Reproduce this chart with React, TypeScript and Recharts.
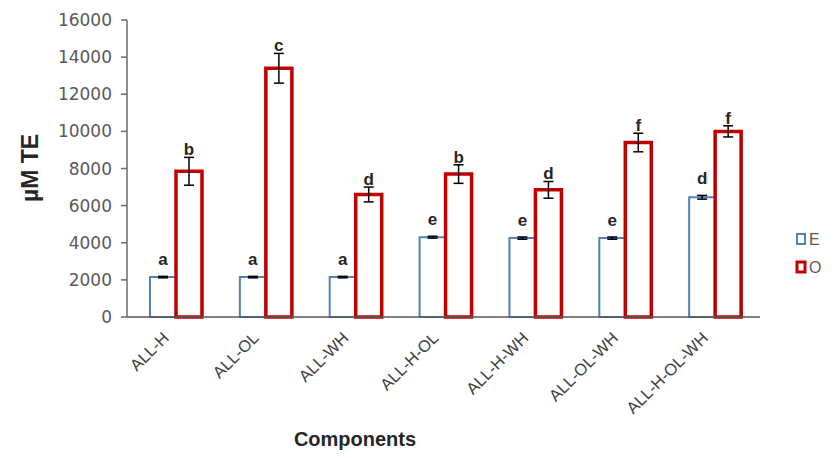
import React from "react";
import { BarChart, Bar, XAxis, YAxis, ErrorBar, LabelList, Label } from "recharts";

// --- Data ---
const COMPONENTS = ["ALL-H", "ALL-OL", "ALL-WH", "ALL-H-OL", "ALL-H-WH", "ALL-OL-WH", "ALL-H-OL-WH"];
const E_VALUES = [2150, 2150, 2150, 4300, 4250, 4250, 6450];
const E_ERRORS = [40, 40, 40, 50, 60, 60, 100];
const O_VALUES = [7850, 13400, 6600, 7700, 6850, 9400, 10000];
const O_ERRORS = [750, 800, 400, 500, 450, 500, 300];
const E_LETTERS = ["a", "a", "a", "e", "e", "e", "d"];
const O_LETTERS = ["b", "c", "d", "b", "d", "f", "f"];
const Y_TICKS = [0, 2000, 4000, 6000, 8000, 10000, 12000, 14000, 16000];

const data = COMPONENTS.map((name, i) => ({
  name,
  E: E_VALUES[i],
  eErr: E_ERRORS[i],
  O: O_VALUES[i],
  oErr: O_ERRORS[i],
}));

const BLUE = "#4F81BD";
const RED = "#C00000";
const FONT = "'Liberation Sans', Arial, sans-serif";

// letter above error bar; pixel error derived from bar's own px/unit ratio
const makeLetter = (letters: string[], errors: number[], gap: number) => (props: any) => {
  const { x, y, width, height, value, index } = props;
  const errPx = value ? (errors[index] * height) / value : 0;
  return (
    <text
      x={x + width / 2}
      y={y - errPx - gap}
      textAnchor="middle"
      fontFamily={FONT}
      fontWeight="bold"
      fontSize={17}
      fill="#262626"
    >
      {letters[index]}
    </text>
  );
};

const XTick = (props: any) => {
  const { x, y, payload } = props;
  return (
    <text
      x={x - 6}
      y={y + 14}
      transform={`rotate(-45, ${x - 6}, ${y + 14})`}
      textAnchor="end"
      fontFamily={FONT}
      fontSize={16.5}
      fill="#404040"
    >
      {payload.value}
    </text>
  );
};

const LegendBox = () => (
  <svg width={40} height={50}>
    <rect x={2} y={6} width={8} height={10} fill="#fff" stroke={BLUE} strokeWidth={2} />
    <text x={14} y={17} fontFamily={FONT} fontSize={16} fill="#595959">E</text>
    <rect x={2} y={34} width={8} height={10} fill="#fff" stroke={RED} strokeWidth={3} />
    <text x={14} y={45} fontFamily={FONT} fontSize={16} fill="#595959">O</text>
  </svg>
);

export default function App() {
  return (
    <div style={{ position: "absolute", left: 0, top: 0, width: 834, height: 458, background: "#fff" }}>
      <BarChart
        width={834}
        height={458}
        data={data}
        margin={{ top: 20, right: 74, left: 0, bottom: 0 }}
        barGap={0}
        barSize={26}
      >
        <XAxis
          dataKey="name"
          height={141}
          tickLine={false}
          axisLine={{ stroke: "#595959", strokeWidth: 1.5 }}
          tick={<XTick />}
          interval={0}
          padding={{ left: 4, right: 0 }}
        >
          <Label
            content={() => (
              <text x={355} y={446} textAnchor="middle" fontFamily={FONT} fontWeight="bold" fontSize={20} fill="#262626">
                Components
              </text>
            )}
          />
        </XAxis>
        <YAxis
          width={127}
          domain={[0, 16000]}
          ticks={Y_TICKS}
          tickSize={6}
          tickMargin={9}
          axisLine={{ stroke: "#6b6b6b", strokeWidth: 1.5 }}
          tickLine={{ stroke: "#6b6b6b", strokeWidth: 1.5 }}
          tick={{ fontFamily: "'DejaVu Sans', sans-serif", fontSize: 17, fill: "#595959" }}
          interval={0}
        >
          <Label
            content={() => (
              <text
                x={38}
                y={168}
                transform="rotate(-90, 38, 168)"
                textAnchor="middle"
                fontFamily={FONT}
                fontWeight="bold"
                fontSize={23}
                fill="#262626"
              >
                µM TE
              </text>
            )}
          />
        </YAxis>
        <Bar dataKey="E" fill="#fff" stroke={BLUE} strokeWidth={2} isAnimationActive={false}>
          <ErrorBar dataKey="eErr" stroke="#000" strokeWidth={1.5} width={5} />
          <LabelList dataKey="E" content={makeLetter(E_LETTERS, E_ERRORS, 11)} />
        </Bar>
        <Bar dataKey="O" fill="#fff" stroke={RED} strokeWidth={3.5} isAnimationActive={false}>
          <ErrorBar dataKey="oErr" stroke="#000" strokeWidth={1.5} width={5} />
          <LabelList dataKey="O" content={makeLetter(O_LETTERS, O_ERRORS, 2)} />
        </Bar>
      </BarChart>
      <div style={{ position: "absolute", left: 795, top: 228 }}>
        <LegendBox />
      </div>
    </div>
  );
}
